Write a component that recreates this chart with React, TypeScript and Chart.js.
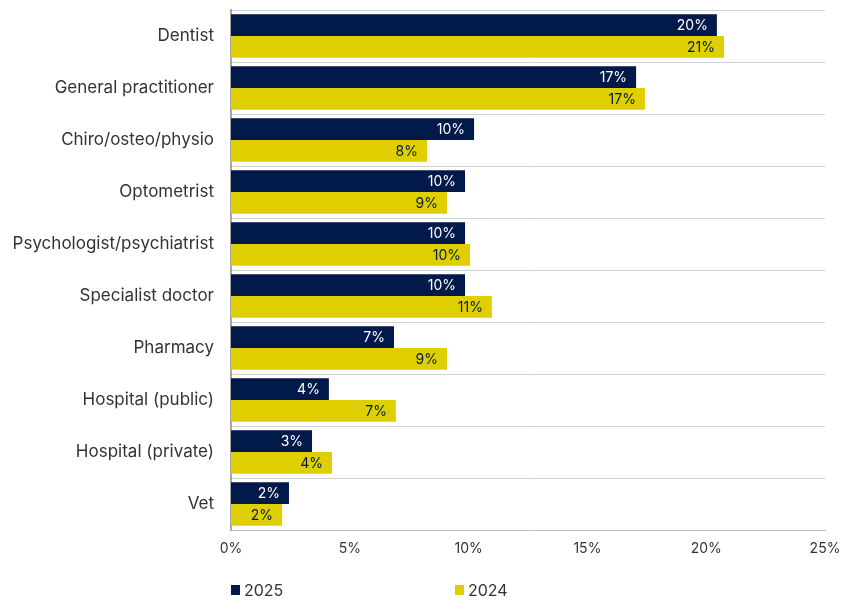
import React, { useEffect, useRef } from "react";
import { Chart, registerables } from "chart.js";

Chart.register(...registerables);

const categories = [
  "Dentist",
  "General practitioner",
  "Chiro/osteo/physio",
  "Optometrist",
  "Psychologist/psychiatrist",
  "Specialist doctor",
  "Pharmacy",
  "Hospital (public)",
  "Hospital (private)",
  "Vet",
];
const values2025 = [20.45, 17.05, 10.23, 9.85, 9.85, 9.85, 6.86, 4.12, 3.41, 2.44];
const values2024 = [20.75, 17.42, 8.25, 9.09, 10.06, 10.98, 9.09, 6.94, 4.25, 2.15];
const seriesNames = ["2025", "2024"];
const xTicks = [0, 5, 10, 15, 20, 25];

const NAVY = "#011A4A";
const YELLOW = "#DFCF00";
const FONT = "Inter, 'Noto Sans', sans-serif";

const labelPlugin = {
  id: "barLabels",
  afterDatasetsDraw(chart: any) {
    const ctx = chart.ctx;
    ctx.save();
    ctx.font = `14px ${FONT}`;
    ctx.textAlign = "right";
    ctx.textBaseline = "middle";
    chart.data.datasets.forEach((ds: any, di: number) => {
      const meta = chart.getDatasetMeta(di);
      meta.data.forEach((bar: any, i: number) => {
        const v = ds.data[i];
        ctx.fillStyle = di === 0 ? "#FFFFFF" : NAVY;
        ctx.fillText(`${Math.round(v)}%`, bar.x - 9, bar.y + 1);
      });
    });
    ctx.restore();
  },
};

const legendPlugin = {
  id: "customLegend",
  afterDraw(chart: any) {
    const ctx = chart.ctx;
    const left = chart.chartArea.left;
    const y = 590;
    const offsets = [0, 224];
    ctx.save();
    ctx.font = `16px ${FONT}`;
    ctx.textBaseline = "middle";
    ctx.textAlign = "left";
    chart.data.datasets.forEach((ds: any, i: number) => {
      const x = left + offsets[i];
      ctx.fillStyle = ds.backgroundColor;
      ctx.fillRect(x, y - 5, 9, 10);
      ctx.fillStyle = "#333333";
      ctx.fillText(ds.label, x + 13, y + 1);
    });
    ctx.restore();
  },
};

export default function App() {
  const ref = useRef<HTMLCanvasElement>(null);
  useEffect(() => {
    if (!ref.current) return;
    const chart = new Chart(ref.current, {
      type: "bar",
      data: {
        labels: categories,
        datasets: [
          { label: seriesNames[0], data: values2025, backgroundColor: NAVY },
          { label: seriesNames[1], data: values2024, backgroundColor: YELLOW },
        ],
      },
      options: {
        indexAxis: "y",
        animation: false,
        responsive: false,
        maintainAspectRatio: false,
        layout: { padding: { top: 10, right: 25, left: 0, bottom: 0 } },
        datasets: { bar: { categoryPercentage: 0.84, barPercentage: 1.0 } } as any,
        plugins: {
          legend: { display: false },
          tooltip: { enabled: false },
        },
        scales: {
          x: {
            min: 0,
            max: 25,
            afterBuildTicks(scale: any) {
              scale.ticks = xTicks.map((v) => ({ value: v }));
            },
            afterFit(scale: any) {
              scale.height = 71;
              scale.paddingLeft = 0;
              scale.paddingRight = 0;
            },
            grid: { display: false, drawTicks: false },
            border: { display: true, color: "#BFBFBF", width: 1 },
            ticks: {
              padding: 10,
              color: "#333333",
              font: { family: FONT, size: 14 },
              callback: (v: any) => `${v}%`,
            },
          },
          y: {
            afterFit(scale: any) {
              scale.width = 231;
              scale.paddingTop = 0;
              scale.paddingBottom = 0;
            },
            grid: { display: true, offset: true, color: "#D0D0D0", lineWidth: 1, drawTicks: false },
            border: { display: true, color: "#A6A6A6", width: 2 },
            ticks: {
              padding: 17,
              color: "#333333",
              font: { family: FONT, size: 17 },
            },
          },
        },
      },
      plugins: [labelPlugin, legendPlugin],
    });
    return () => chart.destroy();
  }, []);
  return (
    <div style={{ position: "fixed", left: 0, top: 0, width: 850, height: 601, background: "#fff" }}>
      <canvas ref={ref} width={850} height={601} style={{ display: "block" }} />
    </div>
  );
}
